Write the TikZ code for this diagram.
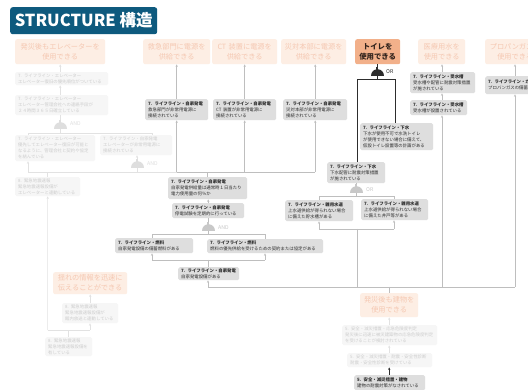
\documentclass[tikz,border=0pt]{standalone}
\usepackage{fontspec}
\setmainfont{Noto Sans CJK JP}
\usetikzlibrary{arrows.meta,calc}
\definecolor{titlebg}{RGB}{14,90,126}
\definecolor{actfill}{RGB}{222,222,222}
\definecolor{acttext}{RGB}{45,45,45}
\definecolor{fadfill}{RGB}{246,246,246}
\definecolor{fadtext}{RGB}{205,205,205}
\definecolor{goalfill}{RGB}{253,238,228}
\definecolor{goaltext}{RGB}{245,200,178}
\definecolor{goalact}{RGB}{242,176,138}
\definecolor{goalatext}{RGB}{50,35,28}
\definecolor{linecol}{RGB}{190,190,190}
\definecolor{linefad}{RGB}{226,226,226}
\definecolor{linedark}{RGB}{45,45,45}
\definecolor{gatefad}{RGB}{222,222,222}
\definecolor{gategrey}{RGB}{200,200,200}
\newcommand{\bx}[7]{%
  \pgfmathsetmacro{\bxw}{#5-(#3)}%
  \pgfmathsetmacro{\bxh}{#6-(#4)}%
  \pgfmathsetmacro{\bxt}{#5-(#3)-6}%
  \node[#1, anchor=north west, minimum width=\bxw pt, minimum height=\bxh pt, text width=\bxt pt] (#2) at (#3,#4) {#7};%
}
% gate: name, cx, base y, colour
\newcommand{\gate}[4]{%
  \coordinate (#1) at (#2,#3);%
  \coordinate (#1t) at (#2,#3-9);%
  \fill[#4] ($(#1)+(-6.5,0)$) .. controls ($(#1)+(-6.5,-8.6)$) and ($(#1)+(6.5,-8.6)$) .. ($(#1)+(6.5,0)$) -- cycle;%
  \fill[#4] ($(#1)+(-1,-5)$) rectangle ($(#1)+(1,-9)$);%
}
\tikzset{
  box/.style={rectangle, rounded corners=1.6pt, inner xsep=3pt, inner ysep=1pt, align=left, font=\fontsize{4.4}{6.1}\selectfont},
  act/.style={box, fill=actfill, text=acttext},
  fad/.style={box, fill=fadfill, text=fadtext},
  goal/.style={rectangle, rounded corners=2pt, inner xsep=1pt, inner ysep=1pt, align=center, font=\fontsize{7.2}{10}\selectfont},
  goalf/.style={goal, fill=goalfill, text=goaltext},
  goala/.style={goal, fill=goalact, text=goalatext, font=\fontsize{7.4}{10}\selectfont\bfseries},
  ln/.style={draw=linecol, line width=0.5pt},
  lf/.style={draw=linefad, line width=0.5pt},
  ld/.style={draw=linedark, line width=0.8pt},
  arr/.style={-{Stealth[length=2.4pt,width=2.2pt]}},
  gl/.style={font=\fontsize{5.2}{6}\selectfont, anchor=west, inner sep=0pt}
}
\begin{document}
\begin{tikzpicture}[x=1pt,y=-1pt]
\useasboundingbox (0,0) rectangle (528,390);
\clip (0,0) rectangle (528,390);
\fill[white] (0,0) rectangle (528,390);
% title
\node[fill=titlebg, text=white, rounded corners=2.5pt, minimum width=147pt, minimum height=27pt, anchor=north west, font=\fontsize{16.5}{18}\selectfont\bfseries, inner sep=0pt] (title) at (10,7) {STRUCTURE 構造};
% goals
\bx{goalf}{g1}{15}{39}{105}{64}{発災後もエレベーターを\\使用できる}
\bx{goalf}{g2}{143}{39}{210}{64}{救急部門に電源を\\供給できる}
\bx{goalf}{g3}{212}{39}{277}{64}{CT 装置に電源を\\供給できる}
\bx{goalf}{g4}{281}{39}{346}{64}{災対本部に電源を\\供給できる}
\bx{goala}{g5}{355}{39}{400}{64}{トイレを\\使用できる}
\bx{goalf}{g6}{418}{39}{465}{64}{医療用水を\\使用できる}
\bx{goalf}{g7}{485}{39}{545}{64}{プロパンガスを\\使用できる}
\bx{goalf}{g8}{53}{272}{127}{294}{揺れの情報を迅速に\\伝えることができる}
\bx{goalf}{g9}{360}{293}{418}{317}{発災後も建物を\\使用できる}
% active boxes
\bx{act}{a1}{145}{99}{208}{120}{{\bfseries 7. ライフライン・自家発電}\\救急部門が非常用電源に\\接続されている}
\bx{act}{a2}{213}{99}{276}{120}{{\bfseries 7. ライフライン・自家発電}\\CT 装置が非常用電源に\\接続されている}
\bx{act}{a3}{283}{99}{347}{120}{{\bfseries 7. ライフライン・自家発電}\\災対本部が非常用電源に\\接続されている}
\bx{act}{a4}{168}{177}{247}{199}{{\bfseries 7. ライフライン・自家発電}\\自家発電供給量は通常時１日当たり\\電力使用量の何％か}
\bx{act}{a5}{172}{203}{244}{218}{{\bfseries 7. ライフライン・自家発電}\\停電試験を定期的に行っている}
\bx{act}{a6}{115}{238}{193}{253}{{\bfseries 7. ライフライン・燃料}\\自家発電設備の備蓄燃料がある}
\bx{act}{a7}{207}{239}{323}{253}{{\bfseries 7. ライフライン・燃料}\\燃料の優先供給を受けるための契約または協定がある}
\bx{act}{a8}{178}{267}{239}{280}{{\bfseries 7. ライフライン・自家発電}\\自家発電設備がある}
\bx{act}{a9}{360}{123}{433}{150}{{\bfseries 7. ライフライン・下水}\\下水が使用不可で水洗トイレ\\が使用できない場合に備えて、\\仮設トイレ設置等の計画がある}
\bx{act}{a10}{327}{162}{385}{183}{{\bfseries 7. ライフライン・下水}\\下水配管に耐震対策措置\\が施されている}
\bx{act}{a11}{285}{200}{353}{221}{{\bfseries 7. ライフライン・雑用水道}\\上水道供給が得られない場合\\に備えた貯水槽がある}
\bx{act}{a12}{361}{199}{428}{220}{{\bfseries 7. ライフライン・雑用水道}\\上水道供給が得られない場合\\に備えた井戸等がある}
\bx{act}{a13}{410}{72}{475}{93}{{\bfseries 7. ライフライン・受水槽}\\受水槽や配管に耐震対策措置\\が施されている}
\bx{act}{a14}{410}{100}{467}{115}{{\bfseries 7. ライフライン・受水槽}\\受水槽が設置されている}
\bx{act}{a15}{485}{76}{545}{94}{{\bfseries 7. ライフライン・ガス}\\プロパンガスの備蓄がある}
\bx{act}{a16}{354}{375}{425}{390}{{\bfseries 5. 安全・減災措置・建物}\\建物の耐震対策がなされている}
% faded boxes
\bx{fad}{f1}{15}{72}{108}{85}{7. ライフライン・エレベーター\\エレベーター復旧の優先順位がついている}
\bx{fad}{f2}{15}{95}{108}{115}{7. ライフライン・エレベーター\\エレベーター管理会社への連絡手段が\\２４時間３６５日確立している}
\bx{fad}{f3}{15}{135}{95}{161}{7. ライフライン・エレベーター\\優先してエレベーター復旧が可能と\\なるように、管理会社と契約や協定\\を結んでいる}
\bx{fad}{f4}{100}{135}{172}{155}{7. ライフライン・自家発電\\エレベーターが非常用電源に\\接続されている}
\bx{fad}{f5}{15}{177}{80}{196}{8. 緊急地震速報\\緊急地震速報設備が\\エレベーターと連動している}
\bx{fad}{f6}{62}{303}{118}{323}{8. 緊急地震速報\\緊急地震速報設備が\\館内放送と連動している}
\bx{fad}{f7}{45}{337}{92}{356}{8. 緊急地震速報\\緊急地震速報設備を\\有している}
\bx{fad}{f8}{342}{325}{437}{345}{5. 安全・減災措置・応急危険度判定\\発災後に迅速に被災建築物の応急危険度判定\\を受けることが検討されている}
\bx{fad}{f9}{347}{353}{432}{367}{5. 安全・減災措置・耐震・安全性診断\\耐震・安全性診断を受けている}
% ---- elevator column
\draw[lf,arr] (f1.north -| g1.south) -- (g1.south);
\draw[lf,arr] (f2.north -| g1.south) -- (f1.south -| g1.south);
\gate{e1}{60}{129}{gatefad}
\node[gl, text=gatefad] (e1lab) at (70,124) {AND};
\draw[lf] (f2.south -| e1t) -- (e1t);
\coordinate (e1l) at (28,133);
\coordinate (e1r) at (152,133);
\draw[lf] (e1) -- (e1 |- e1l);
\draw[lf] (f3.north -| e1l) -- (e1l) -- (e1r) -- (f4.north -| e1r);
\gate{e2}{137}{168}{gatefad}
\node[gl, text=gatefad] (e2lab) at (147,164) {AND};
\draw[lf,arr] (e2t) -- (f4.south -| e2t);
\coordinate (h1l) at (28,172);
\draw[lf] (e2) -- (e2 |- h1l);
\draw[lf,arr] (h1l) -- (f3.south -| h1l);
\draw[lf] (h1l) -- (a1.south |- h1l);
\draw[lf] (f5.north) -- (f5.north |- h1l);
\coordinate (h2l) at (47.5,330);
\coordinate (h2r) at (90,330);
\draw[lf,arr] (h2l) -- (f5.south);
\draw[lf] (h2l) -- (h2r);
\draw[lf,arr] (h2r) -- (f6.south -| h2r);
\draw[lf] (f7.north) -- (f7.north |- h2l);
\draw[lf,arr] (f6.north) -- (g8.south -| f6.north);
% ---- power
\draw[ln,arr] (a1.north) -- (g2.south -| a1.north);
\draw[ln,arr] (a2.north) -- (g3.south -| a2.north);
\draw[ln,arr] (a3.north) -- (g4.south -| a3.north);
\draw[ln] (a1.south |- h1l) -- (a3.south |- h1l);
\draw[ln,arr] (a1.south |- h1l) -- (a1.south);
\draw[ln,arr] (a2.south |- h1l) -- (a2.south);
\draw[ln,arr] (a3.south |- h1l) -- (a3.south);
\draw[ln] (a4.north) -- (a4.north |- h1l);
\draw[ln,arr] (a5.north) -- (a4.south -| a5.north);
\gate{p1}{208}{231}{gategrey}
\node[gl, text=gategrey] (p1lab) at (218,228) {AND};
\draw[ln] (a5.south -| p1t) -- (p1t);
\coordinate (p1l) at (152,234);
\coordinate (p1r) at (265,234);
\draw[ln] (p1) -- (p1 |- p1l);
\draw[ln] (a6.north -| p1l) -- (p1l) -- (p1r) -- (a7.north -| p1r);
\coordinate (p2l) at (152,260);
\coordinate (p2r) at (265,260);
\coordinate (p2m) at (208,260);
\draw[ln] (p2l) -- (p2r);
\draw[ln,arr] (p2l) -- (a6.south -| p2l);
\draw[ln,arr] (p2r) -- (a7.south -| p2r);
\draw[ln] (p2m) -- (a8.north -| p2m);
\coordinate (b1) at (208,287);
\coordinate (b2) at (515,287);
\draw[ln] (b1) -- (b2);
\draw[ln,arr] (b1) -- (a8.south -| b1);
% ---- toilet
\gate{t1}{377}{76}{linedark}
\node[gl, text=linedark] (t1lab) at (386,72) {OR};
\draw[ld] (g5.south -| t1t) -- (t1t);
\coordinate (t1l) at (357,79);
\coordinate (t1r) at (395,79);
\draw[ld] (t1) -- (t1 |- t1l);
\draw[ld] (a10.north -| t1l) -- (t1l) -- (t1r) -- (a9.north -| t1r);
\gate{o2}{356}{193}{gategrey}
\node[gl, text=gategrey] (o2lab) at (366,190) {OR};
\draw[ln] (a10.south -| o2t) -- (o2t);
\coordinate (o2l) at (319,196);
\coordinate (o2r) at (394,196);
\draw[ln] (o2) -- (o2 |- o2l);
\draw[ln] (a11.north -| o2l) -- (o2l) -- (o2r) -- (a12.north -| o2r);
\coordinate (o3l) at (319,229);
\coordinate (o3r) at (394,229);
\coordinate (o3m) at (357,229);
\draw[ln] (o3l) -- (o3r);
\draw[ln,arr] (o3l) -- (a11.south -| o3l);
\draw[ln,arr] (o3r) -- (a12.south -| o3r);
\draw[ln] (o3m) -- (o3m |- b1);
% ---- water and gas
\coordinate (cw) at (442,287);
\draw[ln,arr] (a13.north -| cw) -- (g6.south -| cw);
\draw[ln,arr] (a14.north -| cw) -- (a13.south -| cw);
\draw[ln,arr] (cw) -- (a14.south -| cw);
\draw[ln,arr] (a15.north -| b2) -- (g7.south -| b2);
\draw[ln,arr] (b2) -- (a15.south -| b2);
% ---- building
\draw[ln] (g9.north |- b1) -- (g9.north);
\draw[lf,arr] (f8.north -| g9.north) -- (g9.south);
\draw[lf,arr] (f9.north -| g9.north) -- (f8.south -| g9.north);
\draw[ld,arr] (a16.north -| g9.north) -- (f9.south -| g9.north);
\end{tikzpicture}
\end{document}
